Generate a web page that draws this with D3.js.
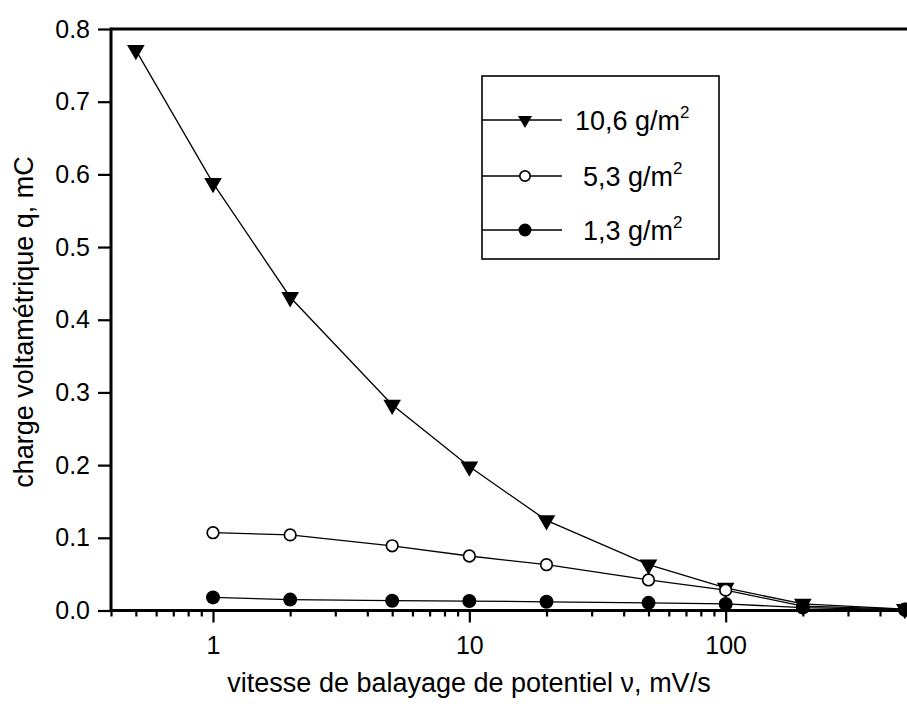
<!DOCTYPE html>
<html>
<head>
<meta charset="utf-8">
<script src="https://cdn.jsdelivr.net/npm/d3@7"></script>
<style>
  body { margin: 0; background: #fff; }
  svg { display: block; font-family: "Liberation Sans", Arial, Helvetica, sans-serif; }
</style>
</head>
<body>
<div id="chart"></div>
<script>
/////////////
//  DATA   //
/////////////

var scanRatesHigh = [0.5, 1, 2, 5, 10, 20, 50, 100, 200, 500];
var charge106 = [0.771, 0.588, 0.431, 0.283, 0.198, 0.124, 0.063, 0.031, 0.009, 0.002];

var scanRatesLow = [1, 2, 5, 10, 20, 50, 100, 200, 500];
var charge53 = [0.107, 0.104, 0.089, 0.075, 0.063, 0.042, 0.028, 0.006, 0.002];
var charge13 = [0.018, 0.015, 0.0135, 0.013, 0.012, 0.0105, 0.009, 0.004, 0.001];

var yTicks = [0, 0.1, 0.2, 0.3, 0.4, 0.5, 0.6, 0.7, 0.8];
var xMajorTicks = [1, 10, 100];
var legendLabels = ["10,6", "5,3", "1,3"];

///////////////////////
// SVG AND DIMENSIONS //
///////////////////////

var svgWidth = 907, svgHeight = 704;
// plot area; the right side runs off the page like in the scan
var plotLeft = 111, plotTop = 29, plotBottom = 610.5, plotRight = 982;

var svg = d3.select("#chart")
  .append("svg")
  .attr("width", svgWidth)
  .attr("height", svgHeight);

var x = d3.scaleLog()
  .domain([0.4, 1000])
  .range([plotLeft, plotRight]);

var y = d3.scaleLinear()
  .domain([0, 0.8])
  .range([plotBottom, plotTop]);

//////////
// AXES //
//////////

// minor ticks on x: every integer step of each decade
var xMinorTicks = x.ticks().filter(function (d) { return xMajorTicks.indexOf(d) < 0; });

var xAxisMinor = d3.axisBottom(x)
  .tickValues(xMinorTicks)
  .tickSize(6)
  .tickFormat("");

var xAxisMajor = d3.axisBottom(x)
  .tickValues(xMajorTicks)
  .tickSize(12)
  .tickPadding(14)
  .tickFormat(d3.format("d"));

var yAxis = d3.axisLeft(y)
  .tickValues(yTicks)
  .tickSize(13)
  .tickPadding(8)
  .tickFormat(d3.format(".1f"));

svg.append("g")
  .attr("class", "x axis minor")
  .attr("transform", "translate(0," + plotBottom + ")")
  .call(xAxisMinor);

svg.append("g")
  .attr("class", "x axis major")
  .attr("transform", "translate(0," + plotBottom + ")")
  .call(xAxisMajor)
  .selectAll("text")
  .style("font-size", "25px");

svg.append("g")
  .attr("class", "y axis")
  .attr("transform", "translate(" + plotLeft + ",0)")
  .call(yAxis)
  .selectAll("text")
  .style("font-size", "25px");

svg.selectAll(".axis .domain").remove();
svg.selectAll(".axis line").attr("stroke", "#000").attr("stroke-width", 2.2);
svg.selectAll(".axis text").attr("fill", "#000");

// frame lines (left, bottom, top)
svg.append("line")
  .attr("x1", plotLeft).attr("x2", plotLeft)
  .attr("y1", plotTop - 1.5).attr("y2", plotBottom + 1.5)
  .attr("stroke", "#000").attr("stroke-width", 3);

svg.append("line")
  .attr("x1", plotLeft).attr("x2", plotRight)
  .attr("y1", plotBottom).attr("y2", plotBottom)
  .attr("stroke", "#000").attr("stroke-width", 3);

svg.append("line")
  .attr("x1", plotLeft).attr("x2", plotRight)
  .attr("y1", plotTop).attr("y2", plotTop)
  .attr("stroke", "#000").attr("stroke-width", 3);

// axis titles
svg.append("text")
  .attr("x", 469)
  .attr("y", 692)
  .style("text-anchor", "middle")
  .style("font-size", "27px")
  .text("vitesse de balayage de potentiel \u03BD, mV/s");

svg.append("text")
  .attr("transform", "translate(33," + 322 + ") rotate(-90)")
  .style("text-anchor", "middle")
  .style("font-size", "27px")
  .text("charge voltamétrique q, mC");

////////////
// SERIES //
////////////

var series = [
  { xs: scanRatesHigh, ys: charge106, marker: "triangle" },
  { xs: scanRatesLow, ys: charge53, marker: "open" },
  { xs: scanRatesLow, ys: charge13, marker: "filled" }
];

var line = d3.line()
  .x(function (d) { return x(d[0]); })
  .y(function (d) { return y(d[1]); });

function drawMarker(g, kind, big) {
  if (kind === "triangle") {
    g.append("path")
      .attr("d", d3.symbol().type(d3.symbolTriangle).size(big ? 135 : 85)())
      .attr("transform", "rotate(180)")
      .attr("fill", "#000");
  } else if (kind === "open") {
    g.append("circle")
      .attr("r", big ? 5.8 : 5.2)
      .attr("fill", "#fff")
      .attr("stroke", "#000")
      .attr("stroke-width", 1.7);
  } else {
    g.append("circle")
      .attr("r", big ? 7 : 6.5)
      .attr("fill", "#000");
  }
}

series.forEach(function (s) {
  var pts = s.xs.map(function (v, i) { return [v, s.ys[i]]; });

  svg.append("path")
    .datum(pts)
    .attr("d", line)
    .attr("fill", "none")
    .attr("stroke", "#000")
    .attr("stroke-width", 1.3);

  svg.selectAll(null)
    .data(pts)
    .enter()
    .append("g")
    .attr("transform", function (d) { return "translate(" + x(d[0]) + "," + y(d[1]) + ")"; })
    .each(function () { drawMarker(d3.select(this), s.marker, true); });
});

////////////
// LEGEND //
////////////

var legend = svg.append("g").attr("class", "legend");

legend.append("rect")
  .attr("x", 482)
  .attr("y", 76)
  .attr("width", 237)
  .attr("height", 183)
  .attr("fill", "#fff")
  .attr("stroke", "#000")
  .attr("stroke-width", 1.6);

var legendRows = [120, 176, 230];

legendLabels.forEach(function (lab, i) {
  var row = legend.append("g").attr("transform", "translate(0," + legendRows[i] + ")");
  row.append("line")
    .attr("x1", 482).attr("x2", 562)
    .attr("y1", 0).attr("y2", 0)
    .attr("stroke", "#000").attr("stroke-width", 1.5);
  var m = row.append("g").attr("transform", "translate(525,0)");
  drawMarker(m, series[i].marker, false);

  var t = row.append("text")
    .attr("x", i === 0 ? 575 : 583)
    .attr("y", 10)
    .style("font-size", "27px");
  t.append("tspan").text(lab + " g/m");
  t.append("tspan")
    .attr("dy", -12)
    .style("font-size", "17px")
    .text("2");
});
</script>
</body>
</html>
